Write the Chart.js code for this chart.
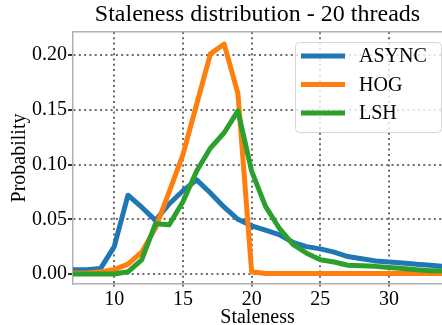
<!DOCTYPE html>
<html>
<head>
<meta charset="utf-8">
<script src="https://cdn.jsdelivr.net/npm/chart.js@4"></script>
<style>
html,body{margin:0;padding:0;background:#fff;}
#wrap{width:442px;height:325px;position:relative;}
</style>
</head>
<body>
<div id="wrap"><canvas id="c" width="442" height="325"></canvas></div>
<script>
const staleness = [7,8,9,10,11,12,13,14,15,16,17,18,19,20,21,22,23,24,25,26,27,28,29,30,31,32,33,34];
const asyncVals = [0.004,0.004,0.005,0.025,0.072,0.061,0.049,0.064,0.076,0.086,0.074,0.061,0.050,0.044,0.040,0.036,0.029,0.025,0.023,0.020,0.016,0.014,0.012,0.011,0.010,0.009,0.008,0.007];
const hogVals = [0.001,0.001,0.002,0.004,0.009,0.020,0.042,0.075,0.109,0.155,0.201,0.210,0.165,0.002,0.0005,0.0005,0.0005,0.0005,0.0005,0.0005,0.0005,0.0005,0.0005,0.0005,0.0005,0.0005,0.0005,0.0005];
const lshVals = [0,0,0,0,0.002,0.013,0.046,0.045,0.066,0.094,0.115,0.129,0.149,0.094,0.062,0.042,0.027,0.019,0.013,0.011,0.008,0.0075,0.007,0.006,0.005,0.004,0.003,0.003];
const xTicks = [10,15,20,25,30];
const yTicks = [0.00,0.05,0.10,0.15,0.20];
const seriesLabels = ['ASYNC','HOG','LSH'];
const seriesColors = ['#1f77b4','#ff7f0e','#2ca02c'];
const titleText = 'Staleness distribution - 20 threads';

const FONT = "'Liberation Serif', 'Times New Roman', serif";
const gridColor = 'rgba(100,100,100,0.95)';
const spineColor = '#b0b0b0';
const DOTS = [2,3.3];

function pts(vals){ return staleness.map((x,i)=>({x:x,y:vals[i]})); }
const allVals = [asyncVals,hogVals,lshVals];

const legendPlugin = {
  id:'customLegend',
  afterDatasetsDraw(chart){
    const ctx = chart.ctx;
    const ds = chart.data.datasets;
    const bx=295, by=42, bw=146, bh=90;
    ctx.save();
    ctx.beginPath();
    if (ctx.roundRect) ctx.roundRect(bx+0.5,by+0.5,bw,bh,4); else ctx.rect(bx+0.5,by+0.5,bw,bh);
    ctx.fillStyle='rgba(255,255,255,0.8)';
    ctx.fill();
    ctx.strokeStyle='#d6d6d6';
    ctx.lineWidth=1;
    ctx.stroke();
    ctx.font = '20px ' + FONT;
    ctx.textBaseline='middle';
    ds.forEach((d,i)=>{
      const y = 56 + i*28.5;
      ctx.beginPath();
      ctx.moveTo(301,y); ctx.lineTo(345,y);
      ctx.strokeStyle=d.borderColor; ctx.lineWidth=5; ctx.lineCap='butt';
      ctx.stroke();
      ctx.fillStyle='#000';
      ctx.fillText(d.label, 359, y+1);
    });
    ctx.restore();
  }
};

new Chart(document.getElementById('c'), {
  type:'line',
  data:{
    datasets: seriesLabels.map((lab,i)=>({
      label: lab,
      data: pts(allVals[i]),
      borderColor: seriesColors[i],
      backgroundColor: seriesColors[i],
      borderWidth: 5,
      pointRadius: 0,
      tension: 0,
      fill: false,
      borderJoinStyle:'round',
      order: 3 - i
    }))
  },
  options:{
    responsive:false,
    animation:false,
    events:[],
    layout:{padding:{left:0,right:0,top:0,bottom:0}},
    plugins:{legend:{display:false}, tooltip:{enabled:false}, title:{display:false}},
    scales:{
      x:{
        type:'linear', position:'bottom',
        min:7, max:33.85,
        afterBuildTicks(s){ s.ticks = xTicks.map(v=>({value:v})); },
        afterFit(s){ s.height = 41; },
        ticks:{font:{family:FONT,size:20}, color:'#000', padding:-1, maxRotation:0, autoSkip:false,
               callback:(v)=>String(v)},
        grid:{color:gridColor, lineWidth:2, tickLength:5, tickBorderDash:DOTS, tickColor:gridColor, drawOnChartArea:true},
        border:{display:true, color:spineColor, width:1.5, dash:DOTS},
        title:{display:true, text:'Staleness', font:{family:FONT,size:20}, color:'#000', padding:{top:0,bottom:-5}}
      },
      x2:{
        type:'linear', position:'top',
        min:7, max:33.85,
        afterFit(s){ s.height = 32; },
        ticks:{display:false},
        grid:{display:false, drawTicks:false},
        border:{display:true, color:spineColor, width:1.5},
        title:{display:true, text:titleText, font:{family:FONT,size:24}, color:'#000', padding:{top:0,bottom:1}}
      },
      y:{
        type:'linear', position:'left',
        min:-0.0091, max:0.221,
        afterBuildTicks(s){ s.ticks = yTicks.map(v=>({value:v})); },
        afterFit(s){ s.width = 73; },
        ticks:{font:{family:FONT,size:20}, color:'#000', padding:1, callback:(v)=>Number(v).toFixed(2)},
        grid:{color:gridColor, lineWidth:2, tickLength:5, tickBorderDash:[], tickColor:'#333'},
        border:{display:true, color:spineColor, width:1.5, dash:DOTS},
        title:{display:true, text:'Probability', font:{family:FONT,size:20}, color:'#000', padding:{top:8,bottom:0}}
      }
    }
  },
  plugins:[legendPlugin]
});
</script>
</body>
</html>
